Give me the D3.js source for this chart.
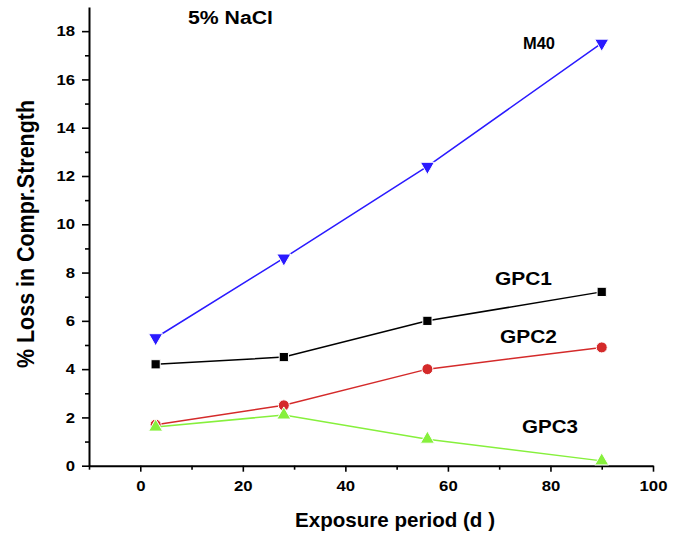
<!DOCTYPE html>
<html><head><meta charset="utf-8">
<script src="https://cdn.jsdelivr.net/npm/d3@7"></script>
<style>html,body{margin:0;padding:0;background:#fff}svg{display:block}text{font-family:"Liberation Sans",Arial,sans-serif;font-weight:bold;fill:#000}</style>
</head><body>
<script>
const days = [3, 28, 56, 90];
const m40 = [5.3, 8.6, 12.4, 17.5];
const gpc1 = [4.2, 4.5, 6.0, 7.2];
const gpc2 = [1.7, 2.5, 4.0, 4.9];
const gpc3 = [1.6, 2.1, 1.1, 0.2];
const xTicks = [0, 20, 40, 60, 80, 100];
const yTicks = [0, 2, 4, 6, 8, 10, 12, 14, 16, 18];
const seriesNames = ["M40", "GPC1", "GPC2", "GPC3"];

const W = 678, H = 534;
const svg = d3.select("body").append("svg").attr("width", W).attr("height", H);
const x = d3.scaleLinear().domain([-10, 100]).range([89, 653]);
const y = d3.scaleLinear().domain([0, 19]).range([465.7, 7]);

function digitLen(t) { return t.length * 9.3; }

// axes
svg.append("g").attr("class", "xa").attr("transform", `translate(0,${y(0)})`)
  .call(d3.axisBottom(x).tickValues(xTicks).tickSize(6).tickSizeOuter(0).tickPadding(12).tickFormat(d3.format("d")));
svg.append("g").attr("transform", `translate(0,${y(0)})`)
  .call(d3.axisBottom(x).tickValues([-10, 10, 30, 50, 70, 90]).tickSize(4).tickSizeOuter(0).tickFormat(""))
  .select(".domain").remove();
svg.append("g").attr("class", "ya").attr("transform", `translate(${x(-10)},0)`)
  .call(d3.axisLeft(y).tickValues(yTicks).tickSize(7).tickSizeOuter(0).tickPadding(7));
svg.append("g").attr("transform", `translate(${x(-10)},0)`)
  .call(d3.axisLeft(y).tickValues([1,3,5,7,9,11,13,15,17]).tickSize(4).tickSizeOuter(0).tickFormat(""))
  .select(".domain").remove();
svg.selectAll(".domain").attr("stroke", "#000").attr("stroke-width", 2);
svg.selectAll(".tick line").attr("stroke", "#000").attr("stroke-width", 1.6);
svg.selectAll(".tick text")
  .style("font-size", "14.5px").style("font-family", '"Liberation Sans",Arial,sans-serif').style("font-weight", "bold")
  .attr("fill", "#000")
  .attr("textLength", function() { return digitLen(this.textContent); })
  .attr("lengthAdjust", "spacingAndGlyphs");
svg.selectAll(".xa .tick text").attr("dy", "0.5em");

const series = [
  {name: "M40", vals: m40, color: "#2a1aff", sym: "tri-down"},
  {name: "GPC1", vals: gpc1, color: "#000000", sym: "square"},
  {name: "GPC2", vals: gpc2, color: "#d42a2a", sym: "circle"},
  {name: "GPC3", vals: gpc3, color: "#86f03c", sym: "triangle"}
];
const line = d3.line().x(d => x(d[0])).y(d => y(d[1]));
series.forEach(s => {
  const pts = days.map((d, i) => [d, s.vals[i]]);
  svg.append("path").datum(pts).attr("d", line).attr("fill", "none")
    .attr("stroke", s.color).attr("stroke-width", 1.5);
  let symType, size;
  if (s.sym === "square") { symType = d3.symbolSquare; size = 85; }
  else if (s.sym === "circle") { symType = d3.symbolCircle; size = 95; }
  else { symType = d3.symbolTriangle; size = 85; }
  svg.selectAll(null).data(pts).enter().append("path")
    .attr("d", d3.symbol().type(symType).size(size))
    .attr("transform", d => `translate(${x(d[0])},${y(d[1])})${s.sym === "tri-down" ? " rotate(180)" : ""}`)
    .attr("fill", s.color).attr("stroke", "#fff").attr("stroke-width", 1);
});

// labels
function label(tx, ty, size, len, str) {
  svg.append("text").attr("x", tx).attr("y", ty).style("font-size", size + "px")
    .attr("textLength", len).attr("lengthAdjust", "spacingAndGlyphs").text(str);
}
label(188, 24, 18, 85, "5% NaCl");
label(523, 49, 16, 32, seriesNames[0]);
label(495, 285, 18, 57, seriesNames[1]);
label(500, 343, 18, 57, seriesNames[2]);
label(522, 433, 18, 56, seriesNames[3]);
label(295, 527, 21, 200, "Exposure period (d )");

svg.append("text").attr("transform", "translate(34,368) scale(1.12,1) rotate(-90)")
  .style("font-size", "21px").attr("textLength", 268).attr("lengthAdjust", "spacingAndGlyphs")
  .text("% Loss in Compr.Strength");
</script>
</body></html>
